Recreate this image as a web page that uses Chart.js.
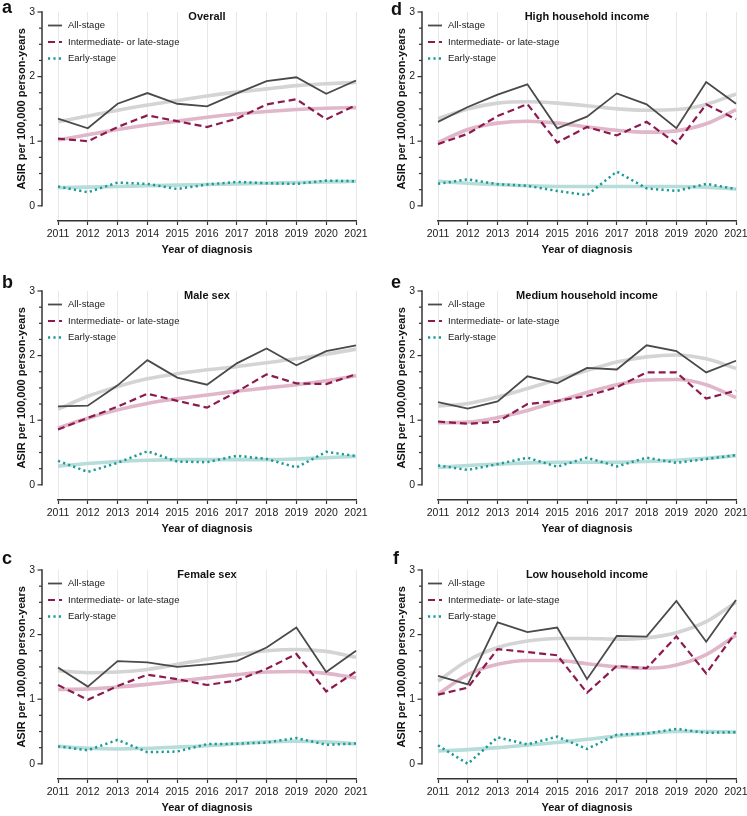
<!DOCTYPE html>
<html>
<head>
<meta charset="utf-8">
<script src="https://cdn.jsdelivr.net/npm/chart.js@4.4.1/dist/chart.umd.min.js"></script>
<style>
  body { margin: 0; background: #fff; width: 747px; height: 816px; overflow: hidden; position: relative;
         font-family: "Liberation Sans", Arial, sans-serif; }
  .panel { position: absolute; width: 373px; height: 279px; }
  .letter { position: absolute; font-weight: bold; font-size: 18px; line-height: 1; color: #111; }
</style>
</head>
<body>

<div class="panel" style="left:0;top:0"><canvas id="chartA"></canvas></div>
<div class="panel" style="left:0;top:279px"><canvas id="chartB"></canvas></div>
<div class="panel" style="left:0;top:558px"><canvas id="chartC"></canvas></div>
<div class="panel" style="left:380px;top:0"><canvas id="chartD"></canvas></div>
<div class="panel" style="left:380px;top:279px"><canvas id="chartE"></canvas></div>
<div class="panel" style="left:380px;top:558px"><canvas id="chartF"></canvas></div>

<div class="letter" style="left:2px;top:-2px">a</div>
<div class="letter" style="left:2px;top:273px">b</div>
<div class="letter" style="left:2px;top:549px">c</div>
<div class="letter" style="left:391px;top:0px">d</div>
<div class="letter" style="left:391px;top:273px">e</div>
<div class="letter" style="left:393px;top:549px">f</div>

<script>
// categories
var years = ['2011', '2012', '2013', '2014', '2015', '2016', '2017', '2018', '2019', '2020', '2021'];
var seriesNames = ['All-stage', 'Intermediate- or late-stage', 'Early-stage'];
var yMajor = [0, 1, 2, 3];
var yMinor = [0.25, 0.5, 0.75, 1.25, 1.5, 1.75, 2.25, 2.5, 2.75];

// a - Overall
var overallAll = [1.35, 1.20, 1.58, 1.745, 1.58, 1.54, 1.74, 1.93, 1.99, 1.735, 1.94];
var overallInter = [1.04, 1.00, 1.22, 1.40, 1.31, 1.22, 1.35, 1.57, 1.65, 1.34, 1.56];
var overallEarly = [0.30, 0.21, 0.36, 0.34, 0.26, 0.33, 0.37, 0.35, 0.34, 0.39, 0.38];
var overallAllFit = [1.30, 1.39, 1.48, 1.56, 1.63, 1.70, 1.76, 1.81, 1.86, 1.89, 1.91];
var overallInterFit = [1.02, 1.10, 1.18, 1.25, 1.31, 1.37, 1.42, 1.46, 1.49, 1.51, 1.52];
var overallEarlyFit = [0.28, 0.29, 0.30, 0.31, 0.32, 0.33, 0.34, 0.35, 0.36, 0.37, 0.38];

// b - Male sex
var maleAll = [1.215, 1.225, 1.54, 1.93, 1.66, 1.55, 1.88, 2.11, 1.85, 2.07, 2.16];
var maleInter = [0.855, 1.035, 1.21, 1.41, 1.30, 1.195, 1.44, 1.71, 1.57, 1.56, 1.71];
var maleEarly = [0.37, 0.20, 0.34, 0.52, 0.36, 0.35, 0.45, 0.40, 0.27, 0.51, 0.445];
var maleAllFit = [1.17, 1.37, 1.52, 1.64, 1.72, 1.78, 1.83, 1.89, 1.95, 2.02, 2.10];
var maleInterFit = [0.88, 1.03, 1.16, 1.26, 1.33, 1.39, 1.45, 1.50, 1.55, 1.61, 1.69];
var maleEarlyFit = [0.29, 0.33, 0.36, 0.38, 0.39, 0.39, 0.39, 0.39, 0.40, 0.42, 0.44];

// c - Female sex
var femaleAll = [1.49, 1.195, 1.59, 1.57, 1.50, 1.54, 1.59, 1.80, 2.11, 1.42, 1.75];
var femaleInter = [1.22, 0.99, 1.205, 1.38, 1.31, 1.22, 1.29, 1.47, 1.70, 1.12, 1.43];
var femaleEarly = [0.27, 0.21, 0.37, 0.18, 0.19, 0.305, 0.31, 0.33, 0.40, 0.295, 0.315];
var femaleAllFit = [1.44, 1.41, 1.42, 1.46, 1.54, 1.62, 1.69, 1.75, 1.77, 1.74, 1.65];
var femaleInterFit = [1.15, 1.16, 1.19, 1.23, 1.28, 1.33, 1.38, 1.42, 1.43, 1.40, 1.33];
var femaleEarlyFit = [0.27, 0.24, 0.23, 0.24, 0.26, 0.28, 0.31, 0.34, 0.35, 0.34, 0.31];

// d - High household income
var highAll = [1.30, 1.53, 1.72, 1.88, 1.20, 1.38, 1.74, 1.57, 1.20, 1.915, 1.58];
var highInter = [0.955, 1.115, 1.39, 1.575, 0.98, 1.22, 1.09, 1.30, 0.965, 1.57, 1.34];
var highEarly = [0.34, 0.41, 0.335, 0.31, 0.23, 0.165, 0.53, 0.27, 0.23, 0.34, 0.26];
var highAllFit = [1.35, 1.50, 1.59, 1.61, 1.59, 1.55, 1.50, 1.48, 1.49, 1.57, 1.73];
var highInterFit = [0.98, 1.18, 1.28, 1.31, 1.28, 1.22, 1.17, 1.14, 1.16, 1.27, 1.49];
var highEarlyFit = [0.38, 0.35, 0.33, 0.31, 0.30, 0.30, 0.30, 0.30, 0.30, 0.29, 0.26];

// e - Medium household income
var medAll = [1.28, 1.18, 1.29, 1.68, 1.57, 1.81, 1.785, 2.16, 2.07, 1.74, 1.92];
var medInter = [0.98, 0.945, 0.975, 1.25, 1.30, 1.375, 1.51, 1.74, 1.74, 1.335, 1.46];
var medEarly = [0.30, 0.23, 0.32, 0.42, 0.28, 0.42, 0.285, 0.42, 0.34, 0.40, 0.46];
var medAllFit = [1.22, 1.26, 1.36, 1.49, 1.63, 1.77, 1.90, 1.98, 2.01, 1.95, 1.80];
var medInterFit = [0.96, 0.97, 1.04, 1.15, 1.29, 1.43, 1.55, 1.62, 1.63, 1.55, 1.35];
var medEarlyFit = [0.27, 0.30, 0.32, 0.34, 0.35, 0.35, 0.35, 0.36, 0.38, 0.41, 0.45];

// f - Low household income
var lowAll = [1.36, 1.23, 2.19, 2.04, 2.11, 1.31, 1.98, 1.97, 2.52, 1.89, 2.535];
var lowInter = [1.07, 1.18, 1.775, 1.73, 1.68, 1.10, 1.515, 1.48, 1.97, 1.40, 2.04];
var lowEarly = [0.285, 0.0, 0.41, 0.30, 0.42, 0.23, 0.45, 0.47, 0.54, 0.48, 0.49];
var lowAllFit = [1.28, 1.60, 1.80, 1.90, 1.94, 1.94, 1.93, 1.95, 2.03, 2.20, 2.50];
var lowInterFit = [1.08, 1.38, 1.54, 1.60, 1.60, 1.55, 1.50, 1.48, 1.53, 1.69, 1.99];
var lowEarlyFit = [0.20, 0.22, 0.25, 0.29, 0.33, 0.38, 0.43, 0.47, 0.50, 0.50, 0.49];

var FONT = '"Liberation Sans", Arial, Helvetica, sans-serif';
Chart.defaults.font.family = FONT;
Chart.defaults.color = '#1a1a1a';

var styles = [
    { color: '#4a4a4a', width: 1.8, dash: [], fit: '#d4d4d4' },
    { color: '#8c1a4f', width: 2.2, dash: [7, 4], fit: '#e0b6c9' },
    { color: '#1b9a96', width: 2.5, dash: [2.2, 3.2], fit: '#b6ddda' }
];

// draws the offset y axis, its title, the panel title and the legend inside the plot
var panelDecor = {
    id: 'panelDecor',
    afterDraw: function (chart, args, opts) {
        var ctx = chart.ctx;
        var area = chart.chartArea;
        var y = chart.scales.y;
        var ax = area.left - 16;

        ctx.save();
        ctx.strokeStyle = '#333';
        ctx.lineWidth = 1.5;
        ctx.beginPath();
        ctx.moveTo(ax, y.getPixelForValue(0) + 0.75);
        ctx.lineTo(ax, y.getPixelForValue(3) - 0.75);
        ctx.stroke();
        ctx.lineWidth = 1.2;
        yMajor.forEach(function (v) {
            var p = y.getPixelForValue(v);
            ctx.beginPath();
            ctx.moveTo(ax - 4.5, p);
            ctx.lineTo(ax, p);
            ctx.stroke();
        });
        yMinor.forEach(function (v) {
            var p = y.getPixelForValue(v);
            ctx.beginPath();
            ctx.moveTo(ax - 3, p);
            ctx.lineTo(ax, p);
            ctx.stroke();
        });

        // y axis title, centred on the 0-3 span
        ctx.fillStyle = '#111';
        ctx.font = 'bold 11px ' + FONT;
        ctx.textAlign = 'center';
        ctx.textBaseline = 'middle';
        ctx.save();
        ctx.translate(22, (y.getPixelForValue(0) + y.getPixelForValue(3)) / 2);
        ctx.rotate(-Math.PI / 2);
        ctx.fillText('ASIR per 100,000 person-years', 0, 0);
        ctx.restore();

        // title
        ctx.fillText(opts.title, (area.left + area.right) / 2, area.top + 5);

        // legend
        ctx.font = '9.5px ' + FONT;
        ctx.textAlign = 'left';
        seriesNames.forEach(function (name, i) {
            var ly = area.top + 13.5 + i * 16.5;
            var s = styles[i];
            ctx.strokeStyle = s.color;
            ctx.lineWidth = s.width;
            ctx.setLineDash(s.dash);
            ctx.beginPath();
            ctx.moveTo(area.left - 10, ly);
            ctx.lineTo(area.left + 4, ly);
            ctx.stroke();
            ctx.setLineDash([]);
            ctx.fillStyle = '#1a1a1a';
            ctx.fillText(name, area.left + 10, ly);
        });
        ctx.restore();
    }
};

function makePanel(id, title, all, inter, early, allFit, interFit, earlyFit) {
    var main = [all, inter, early];
    var fits = [allFit, interFit, earlyFit];
    var datasets = [];
    main.forEach(function (d, i) {
        datasets.push({
            label: seriesNames[i],
            data: d,
            borderColor: styles[i].color,
            borderWidth: styles[i].width,
            borderDash: styles[i].dash,
            pointRadius: 0,
            tension: 0,
            clip: false
        });
    });
    fits.forEach(function (d, i) {
        datasets.push({
            label: seriesNames[i] + ' trend',
            data: d,
            borderColor: styles[i].fit,
            borderWidth: 3.6,
            pointRadius: 0,
            cubicInterpolationMode: 'monotone',
            clip: false
        });
    });

    return new Chart(document.getElementById(id), {
        type: 'line',
        data: { labels: years, datasets: datasets },
        plugins: [panelDecor],
        options: {
            responsive: true,
            maintainAspectRatio: false,
            animation: false,
            layout: { padding: { left: 0, top: 12, right: 17, bottom: 0 } },
            plugins: {
                legend: { display: false },
                tooltip: { enabled: false },
                panelDecor: { title: title }
            },
            scales: {
                x: {
                    type: 'category',
                    offset: false,
                    grid: { color: '#e8e8e8', lineWidth: 1, tickColor: '#333', tickLength: 4, tickWidth: 1.2 },
                    border: { color: '#333', width: 1.5 },
                    ticks: { font: { size: 10.5 }, color: '#1a1a1a', padding: 3, maxRotation: 0, autoSkip: false },
                    title: { display: true, text: 'Year of diagnosis', font: { size: 11, weight: 'bold' },
                             color: '#111', padding: { top: 0, bottom: 22 } },
                    afterFit: function (s) { s.height = 58; s.paddingLeft = 0; s.paddingRight = 0; }
                },
                y: {
                    min: -0.235,
                    max: 3,
                    grid: { display: false, drawTicks: false },
                    border: { display: false },
                    afterBuildTicks: function (s) { s.ticks = yMajor.map(function (v) { return { value: v }; }); },
                    ticks: { font: { size: 10.5 }, color: '#1a1a1a', padding: 23,
                             callback: function (v) { return String(v); } },
                    afterFit: function (s) { s.width = 58; s.paddingTop = 0; s.paddingBottom = 0; }
                }
            }
        }
    });
}

makePanel('chartA', 'Overall', overallAll, overallInter, overallEarly, overallAllFit, overallInterFit, overallEarlyFit);
makePanel('chartB', 'Male sex', maleAll, maleInter, maleEarly, maleAllFit, maleInterFit, maleEarlyFit);
makePanel('chartC', 'Female sex', femaleAll, femaleInter, femaleEarly, femaleAllFit, femaleInterFit, femaleEarlyFit);
makePanel('chartD', 'High household income', highAll, highInter, highEarly, highAllFit, highInterFit, highEarlyFit);
makePanel('chartE', 'Medium household income', medAll, medInter, medEarly, medAllFit, medInterFit, medEarlyFit);
makePanel('chartF', 'Low household income', lowAll, lowInter, lowEarly, lowAllFit, lowInterFit, lowEarlyFit);
</script>
</body>
</html>
